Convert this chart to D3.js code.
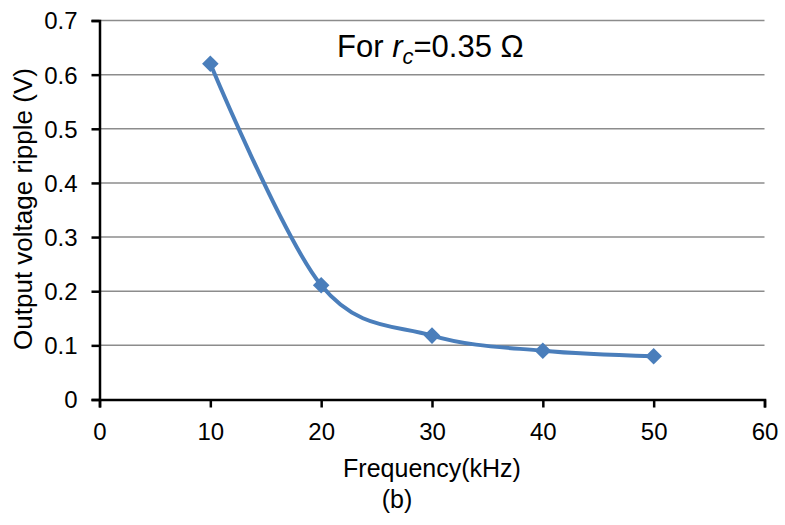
<!DOCTYPE html>
<html>
<head>
<meta charset="utf-8">
<script src="https://cdn.jsdelivr.net/npm/d3@7"></script>
<style>
body{margin:0;background:#fff;}
text{font-family:"Liberation Sans",Arial,sans-serif;fill:#000;}
</style>
</head>
<body>
<svg id="chart" width="785" height="525"></svg>
<script>
const frequency = [10, 20, 30, 40, 50];
const ripple = [0.62, 0.211, 0.118, 0.09, 0.08];
const xTicks = [0, 10, 20, 30, 40, 50, 60];
const yTicks = [0, 0.1, 0.2, 0.3, 0.4, 0.5, 0.6, 0.7];
const yTickLabels = ["0", "0.1", "0.2", "0.3", "0.4", "0.5", "0.6", "0.7"];

const svg = d3.select("#chart");
const x = d3.scaleLinear().domain([0, 60]).range([99.5, 764.5]);
const y = d3.scaleLinear().domain([0, 0.7]).range([399.5, 20.5]);
const FONT = "Liberation Sans, Arial, sans-serif";

// gridlines
svg.append("g").selectAll("line").data(yTicks.filter(d => d > 0)).join("line")
  .attr("x1", x(0)).attr("x2", x(60))
  .attr("y1", d => y(d)).attr("y2", d => y(d))
  .attr("stroke", "#8c8c8c").attr("stroke-width", 1.5);

// y axis
const yAxis = svg.append("g").attr("transform", `translate(${x(0)},0)`)
  .call(d3.axisLeft(y).tickValues(yTicks).tickFormat((d, i) => yTickLabels[i]).tickSize(8).tickPadding(14));
yAxis.select(".domain").attr("stroke", "#000").attr("stroke-width", 2.5);
yAxis.selectAll(".tick line").attr("stroke", "#000").attr("stroke-width", 2.5);
yAxis.selectAll("text").attr("font-size", 24).attr("font-family", FONT).attr("dy", "0.35em").attr("fill", "#000");

// x axis
const xAxis = svg.append("g").attr("transform", `translate(0,${y(0)})`)
  .call(d3.axisBottom(x).tickValues(xTicks).tickSize(8).tickPadding(15));
xAxis.select(".domain").attr("stroke", "#000").attr("stroke-width", 2.5);
xAxis.selectAll(".tick line").attr("stroke", "#000").attr("stroke-width", 2.5);
xAxis.selectAll("text").attr("font-size", 24).attr("font-family", FONT).attr("fill", "#000");

// line
const data = frequency.map((f, i) => ({f, v: ripple[i]}));
svg.append("path").datum(data)
  .attr("fill", "none").attr("stroke", "#4a7ebb").attr("stroke-width", 4)
  .attr("d", d3.line().x(d => x(d.f)).y(d => y(d.v)).curve(d3.curveCardinal.tension(0)));

// markers
svg.append("g").selectAll("path").data(data).join("path")
  .attr("transform", d => `translate(${x(d.f)},${y(d.v)})`)
  .attr("d", d3.symbol().type(d3.symbolDiamond2).size(175))
  .attr("fill", "#4a7ebb");

// annotation
const ann = svg.append("text").attr("x", 337).attr("y", 57).attr("font-size", 31);
ann.append("tspan").text("For ");
ann.append("tspan").attr("font-style", "italic").text("r");
ann.append("tspan").attr("font-style", "italic").attr("font-size", 22).attr("dy", 7).text("c");
ann.append("tspan").attr("dy", -7).text("=0.35 Ω");

// axis titles
svg.append("text").attr("transform", "translate(32,209) rotate(-90)")
  .attr("text-anchor", "middle").attr("font-size", 26).text("Output voltage ripple (V)");
svg.append("text").attr("x", 432).attr("y", 477).attr("text-anchor", "middle")
  .attr("font-size", 25).text("Frequency(kHz)");
svg.append("text").attr("x", 397).attr("y", 508).attr("text-anchor", "middle")
  .attr("font-size", 25).text("(b)");
</script>
</body>
</html>
